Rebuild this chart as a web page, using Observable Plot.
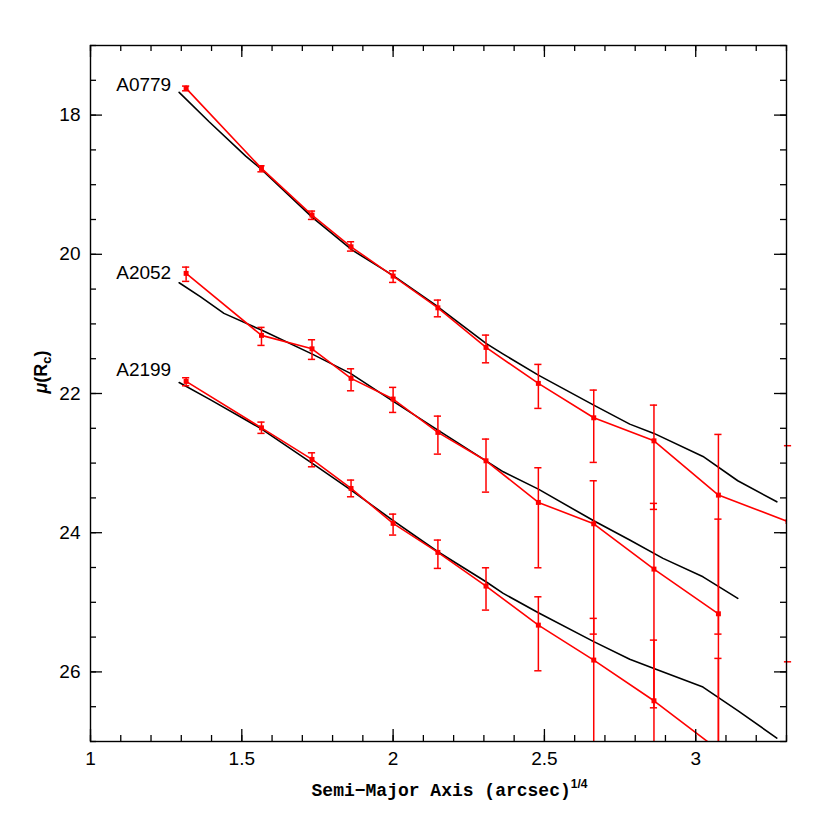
<!DOCTYPE html>
<html><head><meta charset="utf-8">
<script src="https://cdn.jsdelivr.net/npm/d3@7"></script>
<script src="https://cdn.jsdelivr.net/npm/@observablehq/plot@0.6"></script>
<style>body{margin:0;background:#fff} svg{display:block}</style>
</head><body><div id="chart"></div>
<script>
// Observed radii (arcsec)^(1/4)
const radius = [1.316,1.565,1.732,1.861,2.0,2.148,2.307,2.48,2.663,2.862,3.075,3.305];
// Observed surface brightness (red) with error-bar ends (hi = brighter end, lo = fainter end)
const a0779   = [17.616,18.766,19.437,19.892,20.313,20.769,21.338,21.855,22.349,22.680,23.460,23.84];
const a0779Hi = [17.583,18.728,19.379,19.820,20.237,20.658,21.161,21.582,21.951,22.167,22.588,22.75];
const a0779Lo = [17.651,18.815,19.499,19.954,20.404,20.898,21.559,22.214,22.990,23.665,25.457,25.855];
const a2052   = [20.274,21.165,21.358,21.783,22.080,22.559,22.967,23.565,23.872,24.523,25.165];
const a2052Hi = [20.184,21.050,21.228,21.645,21.912,22.325,22.655,23.067,23.254,23.579,23.805];
const a2052Lo = [20.389,21.309,21.510,21.961,22.272,22.871,23.417,24.504,25.457,26.516,29];
const a2199   = [21.826,22.493,22.947,23.364,23.866,24.283,24.767,25.328,25.830,26.415,27.12];
const a2199Hi = [21.774,22.411,22.852,23.244,23.733,24.106,24.504,24.921,25.231,25.543,25.806];
const a2199Lo = [21.889,22.573,23.053,23.484,24.034,24.513,25.112,25.984,29,29,29];
// Model profiles (black)
const m0779X = [1.293,1.392,1.513,1.565,1.733,1.865,1.998,2.148,2.307,2.364,2.480,2.663,2.782,2.862,3.024,3.139,3.268];
const m0779Y = [17.674,18.096,18.589,18.780,19.470,19.940,20.299,20.754,21.280,21.434,21.736,22.167,22.440,22.573,22.904,23.254,23.556];
const m2052X = [1.293,1.364,1.441,1.565,1.733,1.859,1.998,2.148,2.307,2.364,2.480,2.663,2.782,2.892,3.024,3.139];
const m2052Y = [20.409,20.611,20.849,21.089,21.434,21.711,22.105,22.526,22.967,23.125,23.374,23.829,24.106,24.369,24.634,24.944];
const m2199X = [1.293,1.397,1.562,1.733,1.861,1.998,2.148,2.307,2.364,2.480,2.663,2.782,2.862,3.024,3.139,3.268];
const m2199Y = [21.843,22.092,22.501,23.004,23.388,23.819,24.274,24.705,24.872,25.151,25.565,25.819,25.950,26.218,26.556,26.951];
// Series labels
const names = ["A0779","A2052","A2199"];
const nameX = [1.085,1.085,1.085];
const nameY = [17.56,20.27,21.66];
// Axis ticks
const xMajor = [1,1.5,2,2.5,3];
const xMinor = [1,1.1,1.2,1.3,1.4,1.5,1.6,1.7,1.8,1.9,2,2.1,2.2,2.3,2.4,2.5,2.6,2.7,2.8,2.9,3,3.1,3.2,3.3];
const yMajor = [18,20,22,24,26];
const yMinor = [17,17.5,18,18.5,19,19.5,20,20.5,21,21.5,22,22.5,23,23.5,24,24.5,25,25.5,26,26.5,27];

const red = "#ff0000";
function obsSeries(name, ys, hi, lo){ return ys.map((y,i)=>({name, x: radius[i], y, hi: hi[i], lo: lo[i]})); }
function modSeries(name, xs, ys){ return xs.map((x,i)=>({name, x, y: ys[i]})); }
const obs = [...obsSeries("A0779", a0779, a0779Hi, a0779Lo), ...obsSeries("A2052", a2052, a2052Hi, a2052Lo), ...obsSeries("A2199", a2199, a2199Hi, a2199Lo)];
const models = [...modSeries("A0779", m0779X, m0779Y), ...modSeries("A2052", m2052X, m2052Y), ...modSeries("A2199", m2199X, m2199Y)];
const caps = obs.flatMap(d => [d.hi, d.lo].filter(v => v >= 17 && v <= 27).map(v => ({x: d.x, y: v})));
const labels = names.map((n,i)=>({n, x: nameX[i], y: nameY[i]}));

const W = 830, H = 830, mL = 90, mR = 44, mT = 45, mB = 89;
const fw = W - mL - mR, fh = H - mT - mB;
const tk = {stroke: "black", strokeWidth: 1.3};

const chart = Plot.plot({
  width: W, height: H, marginLeft: mL, marginRight: mR, marginTop: mT, marginBottom: mB,
  style: {fontFamily: "'Liberation Sans', Arial, Helvetica, sans-serif", fontSize: "19px", color: "black", background: "white"},
  x: {domain: [1, 3.3], label: null},
  y: {domain: [17, 27], reverse: true, label: null},
  marks: [
    Plot.line(models, {x: "x", y: "y", z: "name", stroke: "black", strokeWidth: 1.6, clip: true}),
    Plot.line(obs, {x: "x", y: "y", z: "name", stroke: red, strokeWidth: 1.6, clip: true}),
    Plot.ruleX(obs, {x: "x", y1: "hi", y2: "lo", stroke: red, strokeWidth: 1.5, clip: true}),
    Plot.ruleY(caps, {y: "y", x1: "x", x2: "x", insetLeft: -3.6, insetRight: -3.6, stroke: red, strokeWidth: 1.5}),
    Plot.dot(obs, {x: "x", y: "y", symbol: "square", r: 2.8, fill: red, clip: true}),
    Plot.text(labels, {x: "x", y: "y", text: "n", textAnchor: "start", fontSize: 19, fill: "black"}),
    Plot.frame({stroke: "black", strokeWidth: 1.4}),
    Plot.tickX(xMinor, {x: d => d, insetTop: fh - 6, ...tk}),
    Plot.tickX(xMinor, {x: d => d, insetBottom: fh - 6, ...tk}),
    Plot.tickX(xMajor, {x: d => d, insetTop: fh - 12, ...tk}),
    Plot.tickX(xMajor, {x: d => d, insetBottom: fh - 12, ...tk}),
    Plot.tickY(yMinor, {y: d => d, insetRight: fw - 6, ...tk}),
    Plot.tickY(yMinor, {y: d => d, insetLeft: fw - 6, ...tk}),
    Plot.tickY(yMajor, {y: d => d, insetRight: fw - 12, ...tk}),
    Plot.tickY(yMajor, {y: d => d, insetLeft: fw - 12, ...tk}),
    Plot.axisX(xMajor, {tickSize: 0, tickPadding: 10, fontSize: 19, tickFormat: d => String(d), label: null}),
    Plot.axisY(yMajor, {tickSize: 0, tickPadding: 10, fontSize: 19, tickFormat: d => String(d), label: null}),
    Plot.text(["μ(Rc)"], {frameAnchor: "left", dx: -49, rotate: -90, fontSize: 18, fontWeight: "bold", fill: "black"}),
    Plot.text(["Semi−Major Axis (arcsec)1/4"], {frameAnchor: "bottom", dy: 54, dx: 11, lineAnchor: "bottom", fontSize: 18, fontWeight: "bold", fontFamily: "'Liberation Mono', 'DejaVu Sans Mono', monospace", fill: "black"})
  ]
});

const NS = "http://www.w3.org/2000/svg";
function rich(svg, match, parts){
  for (const t of svg.querySelectorAll("text")) {
    if (t.textContent === match) {
      while (t.firstChild) t.removeChild(t.firstChild);
      for (const p of parts) {
        const s = document.createElementNS(NS, "tspan");
        s.textContent = p.text;
        for (const [k, v] of Object.entries(p.attrs || {})) s.setAttribute(k, v);
        t.appendChild(s);
      }
    }
  }
}
rich(chart, "μ(Rc)", [
  {text: "μ", attrs: {"font-style": "italic"}},
  {text: "(R"},
  {text: "c", attrs: {"font-size": "13px", dy: "4"}},
  {text: ")", attrs: {dy: "-4"}}
]);
rich(chart, "Semi−Major Axis (arcsec)1/4", [
  {text: "Semi−Major Axis (arcsec)"},
  {text: "1/4", attrs: {"font-size": "12px", dy: "-8", "font-family": "'Liberation Sans', Arial, sans-serif"}}
]);
document.getElementById("chart").appendChild(chart);
</script>
</body></html>
